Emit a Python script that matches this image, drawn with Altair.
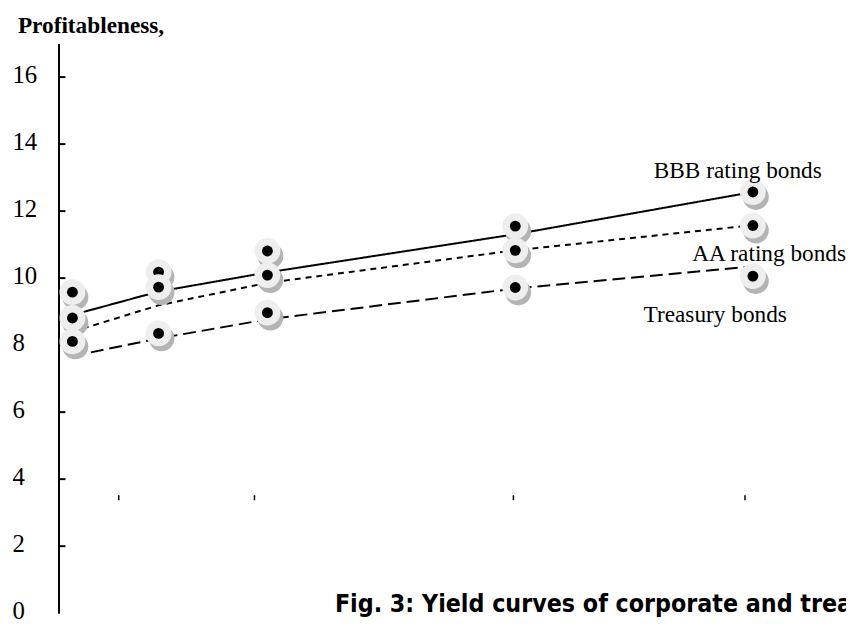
import altair as alt
import pandas as pd

# ---- data ----
terms = [0.30, 2.16, 4.51, 9.86, 14.99]
series = ["BBB rating bonds", "AA rating bonds", "Treasury bonds"]
marker_bbb = [9.58, 10.18, 10.81, 11.55, 12.57]
marker_aa = [8.81, 9.73, 10.09, 10.83, 11.57]
marker_tr = [8.11, 8.35, 8.97, 9.72, 10.06]
line_bbb = [8.90, 9.60, 10.17, 11.31, 12.57]
line_aa = [8.40, 9.19, 9.86, 10.83, 11.58]
line_tr = [7.67, 8.20, 8.77, 9.69, 10.35]
y_ticks = [0, 2, 4, 6, 8, 10, 12, 14, 16]
x_ticks = [1.30, 4.23, 9.82, 14.82]
label_x = [12.85, 13.68, 12.63]
label_y = [13.0, 10.52, 8.69]
y_title = "Profitableness,"
caption = "Fig. 3: Yield curves of corporate and treasury bonds"

markers = [marker_bbb, marker_aa, marker_tr]
lines = [line_bbb, line_aa, line_tr]
dashes = [[1, 0], [6, 5], [13, 6]]

W, H = 795, 575
xs = alt.Scale(domain=[0, 17], nice=False, zero=False)
ys = alt.Scale(domain=[0, 17], nice=False, zero=False)

yaxis = alt.Axis(values=y_ticks, labelAlign="left", labelPadding=47, ticks=False,
                 domainColor="black", domainWidth=2, labelFont="Liberation Serif",
                 labelFontSize=25, labelColor="black", title=None, grid=False,
                 labelOffset=-3, labelBaseline="middle")

layers = []

# axis carrier + inward y ticks
tick_df = pd.DataFrame({"v": [t for t in y_ticks if t > 0]})
layers.append(
    alt.Chart(tick_df).mark_rule(color="black", strokeWidth=2).encode(
        y=alt.Y("v:Q", scale=ys, axis=yaxis),
        x=alt.value(0), x2=alt.value(7)
    )
)

# floating x ticks
xt_df = pd.DataFrame({"t": x_ticks})
layers.append(
    alt.Chart(xt_df).mark_rule(color="black", strokeWidth=1.5).encode(
        x=alt.X("t:Q", scale=xs, axis=None),
        y=alt.datum(3.52), y2=alt.datum(3.37)
    )
)

# lines
for name, vals, dash in zip(series, lines, dashes):
    df = pd.DataFrame({"t": terms, "v": vals, "s": name})
    layers.append(
        alt.Chart(df).mark_line(color="black", strokeWidth=2, strokeDash=dash).encode(
            x=alt.X("t:Q", scale=xs, axis=None),
            y=alt.Y("v:Q", scale=ys)
        )
    )

# markers, series by series
for name, vals in zip(series, markers):
    df = pd.DataFrame({"t": terms, "v": vals, "s": name})
    base = alt.Chart(df).encode(
        x=alt.X("t:Q", scale=xs, axis=None),
        y=alt.Y("v:Q", scale=ys)
    )
    layers.append(base.mark_circle(size=680, color="#b4b4b4", opacity=1, xOffset=3, yOffset=5))
    layers.append(base.mark_circle(size=680, color="#eeeeee", opacity=1))
    layers.append(base.mark_circle(size=120, color="black", opacity=1))

# series labels
lab_df = pd.DataFrame({"x": label_x, "y": label_y, "text": series})
layers.append(
    alt.Chart(lab_df).mark_text(font="Liberation Serif", fontSize=23.5, align="left",
                                baseline="alphabetic", color="black").encode(
        x=alt.X("x:Q", scale=xs, axis=None),
        y=alt.Y("y:Q", scale=ys),
        text="text:N"
    )
)

# y title
layers.append(
    alt.Chart(pd.DataFrame({"text": [y_title]})).mark_text(
        font="Liberation Serif", fontSize=23.5, fontWeight="bold", align="left",
        baseline="alphabetic", color="black").encode(
        x=alt.value(-41), y=alt.value(-11), text="text:N")
)

# caption
layers.append(
    alt.Chart(pd.DataFrame({"text": [caption]})).mark_text(
        font="DejaVu Sans Condensed", fontSize=25, fontWeight="bold", align="left",
        baseline="alphabetic", color="black").encode(
        x=alt.value(279), y=alt.value(574), text="text:N")
)

chart = alt.layer(*layers).properties(
    width=W, height=H,
    autosize=alt.AutoSizeParams(type="none"),
    padding={"left": 51, "top": 33, "right": 0, "bottom": 8},
    background="white"
).configure_view(stroke=None)

chart.save("out.html", embed_options={"renderer": "svg", "actions": False})
